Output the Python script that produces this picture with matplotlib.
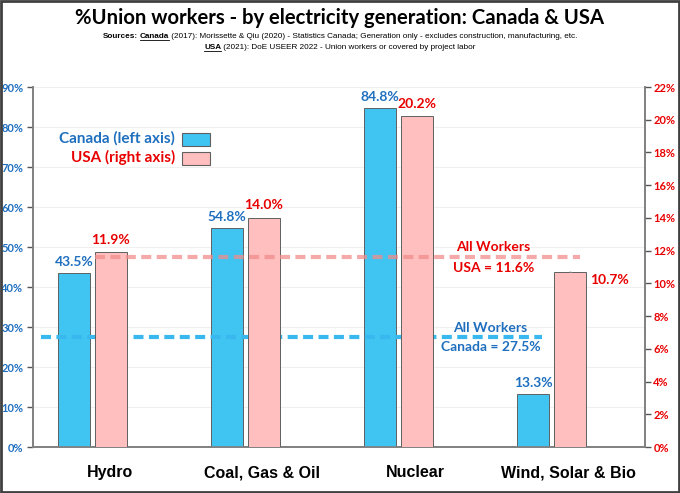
import matplotlib
matplotlib.use("Agg")
import matplotlib.pyplot as plt
from matplotlib.patches import Rectangle
from matplotlib.lines import Line2D
import numpy as np

categories = ["Hydro", "Coal, Gas & Oil", "Nuclear", "Wind, Solar & Bio"]
canada = [43.5, 54.8, 84.8, 13.3]
usa = [11.9, 14.0, 20.2, 10.7]
canada_all = 27.5
usa_all = 11.6
left_ticks = [0, 10, 20, 30, 40, 50, 60, 70, 80, 90]
right_ticks = [0, 2, 4, 6, 8, 10, 12, 14, 16, 18, 20, 22]

BLUE_FILL = "#40C4F2"
PINK_FILL = "#FFBFBF"
BLUE_TXT = "#1F6FBF"
RED_TXT = "#E80000"
EDGE = "#606060"

plt.rcParams['font.family'] = ['Lato', 'DejaVu Sans']
ARIAL = ['Liberation Sans', 'DejaVu Sans']

W, H = 680, 493
fig = plt.figure(figsize=(6.8, 4.93), dpi=100)
ax = fig.add_axes([33/W, 1-447/H, 612/W, 360/H])
ax2 = ax.twinx()

x = np.arange(len(categories))
w = 0.208
ax.bar(x - 0.232, canada, width=w, color=BLUE_FILL, edgecolor=EDGE, linewidth=0.7, zorder=3)
ax2.bar(x + 0.008, usa, width=w, color=PINK_FILL, edgecolor=EDGE, linewidth=0.7, zorder=3)

ax.set_xlim(-0.5, 3.5)
ax.set_ylim(0, 90)
ax2.set_ylim(0, 22)
ax.set_yticks(left_ticks)
ax.set_yticklabels([f"{t}%" for t in left_ticks], fontweight='bold', fontsize=8, color=BLUE_TXT)
ax2.set_yticks(right_ticks)
ax2.set_yticklabels([f"{t}%" for t in right_ticks], fontweight='bold', fontsize=8, color=RED_TXT)
ax.set_xticks(x)
ax.set_xticklabels(categories, family=ARIAL, fontweight='bold', fontsize=11.5)
ax.tick_params(axis='x', length=0, pad=13)
ax.tick_params(axis='y', colors='#555555', labelcolor=BLUE_TXT, length=4, width=1, direction='out', pad=3)
ax2.tick_params(axis='y', colors='#555555', labelcolor=RED_TXT, length=4, width=1, direction='out', pad=2)

ax.grid(axis='y', color='#EFEFEF', linewidth=0.8, zorder=0)
ax.set_axisbelow(True)
for a in (ax, ax2):
    a.spines['top'].set_visible(False)
    for s in ('left', 'right', 'bottom'):
        a.spines[s].set_color('#808080')
        a.spines[s].set_linewidth(1.2)

# reference lines
ax2.plot([-0.095, 3.075], [usa_all, usa_all], color='#F28C8C', alpha=0.75, lw=3, ls=(0, (2.4, 1.3)), zorder=4)
ax.plot([-0.445, 2.83], [canada_all, canada_all], color='#38B8EE', lw=3, ls=(0, (2.4, 1.3)), zorder=4)

ax2.text(2.51, usa_all + 0.25, "All Workers", color=RED_TXT, fontsize=10, fontweight='bold', ha='center', va='bottom', zorder=5)
ax2.text(2.51, usa_all - 0.3, "USA = 11.6%", color=RED_TXT, fontsize=10, fontweight='bold', ha='center', va='top', zorder=5)
ax.text(2.49, canada_all + 0.8, "All Workers", color=BLUE_TXT, fontsize=10, fontweight='bold', ha='center', va='bottom', zorder=5)
ax.text(2.49, canada_all - 1.0, "Canada = 27.5%", color=BLUE_TXT, fontsize=10, fontweight='bold', ha='center', va='top', zorder=5)

# value labels
for i, v in enumerate(canada):
    ax.text(x[i] - 0.232, v + 1.3, f"{v}%", color=BLUE_TXT, fontsize=10, fontweight='bold', ha='center', va='bottom', zorder=5)
for i, v in enumerate(usa):
    if i == 3:
        ax2.annotate(f"{v}%", xy=(x[i] + 0.01, v), xytext=(x[i] + 0.27, v - 0.5),
                     color=RED_TXT, fontsize=10, fontweight='bold', ha='center', va='center',
                     arrowprops=dict(arrowstyle='-', color='#A0A0A0', lw=0.7, shrinkA=12, shrinkB=0), zorder=5)
    else:
        ax2.text(x[i] + 0.008, v + 0.4, f"{v}%", color=RED_TXT, fontsize=10, fontweight='bold', ha='center', va='bottom', zorder=5)

# legend
fig.text(175/W, 1-138/H, "Canada (left axis)", color=BLUE_TXT, fontsize=11, fontweight='bold', ha='right', va='center')
fig.text(175/W, 1-157/H, "USA (right axis)", color=RED_TXT, fontsize=11, fontweight='bold', ha='right', va='center')
fig.patches.append(Rectangle((182/W, 1-146/H), 28/W, 13/H, transform=fig.transFigure,
                             facecolor=BLUE_FILL, edgecolor=EDGE, lw=0.8))
fig.patches.append(Rectangle((182/W, 1-165/H), 28/W, 13/H, transform=fig.transFigure,
                             facecolor=PINK_FILL, edgecolor=EDGE, lw=0.8))

# title
fig.text(0.5, 1-18/H, "%Union workers - by electricity generation: Canada & USA", fontsize=14.6,
         fontweight='bold', ha='center', va='center', color='black')

# subtitle with mixed styles
renderer = fig.canvas.get_renderer()

def rich_line(segments, y_px, size=5.9):
    texts = []
    for s, bold, underline in segments:
        t = fig.text(0, 1-y_px/H, s, fontsize=size, family=ARIAL,
                     fontweight='bold' if bold else 'normal', ha='left', va='baseline')
        texts.append((t, underline, s))
    widths = [t.get_window_extent(renderer).width for t, _, _ in texts]
    total = sum(widths)
    xpos = (W - total) / 2
    for (t, ul, s), wd in zip(texts, widths):
        t.set_x(xpos / W)
        if ul:
            fig.lines.append(Line2D([xpos/W, (xpos+wd)/W], [1-(y_px+1.5)/H]*2,
                                    transform=fig.transFigure, color='black', lw=0.6))
        xpos += wd

rich_line([("Sources:", True, False), (" ", False, False), ("Canada", True, True),
           (" (2017): Morissette & Qiu (2020) - Statistics Canada; Generation only - excludes construction, manufacturing, etc.", False, False)], 38)
rich_line([("USA", True, True), (" (2021): DoE USEER 2022 - Union workers or covered by project labor", False, False)], 49)

# frame
fig.patches.append(Rectangle((0.002, 0.003), 0.996, 0.994, transform=fig.transFigure,
                             facecolor='none', edgecolor='#404040', lw=2))

fig.savefig("out.png", dpi=100)
